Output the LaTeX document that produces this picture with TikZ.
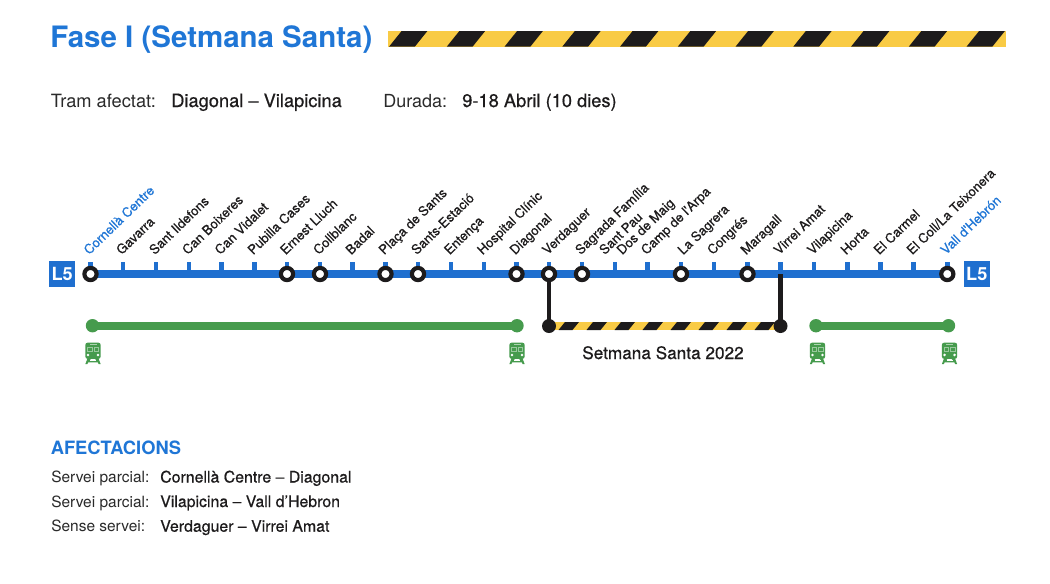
\documentclass[tikz,border=0pt]{standalone}
\usepackage{fontspec}
\setmainfont{TeX Gyre Heros}
\newfontfamily\medfont[FakeBold=0.6]{TeX Gyre Heros}
\usetikzlibrary{calc}
\definecolor{lineblue}{HTML}{1F6FCF}
\definecolor{textblue}{HTML}{1F76D6}
\definecolor{routegreen}{HTML}{469B4D}
\definecolor{hazardyellow}{HTML}{F9CB45}
\definecolor{inkblack}{HTML}{1D1B1C}
\definecolor{softblack}{HTML}{2A2A2A}
\tikzset{
  x=0.75pt,y=-0.75pt,
  stationlabel/.style={anchor=base west,rotate=44,inner sep=0pt,text=inkblack,font=\medfont\fontsize{9.85}{10}\selectfont},
  terminuslabel/.style={stationlabel,text=textblue},
  plain/.style={anchor=base west,inner sep=0pt,text=softblack},
  medtext/.style={anchor=base west,inner sep=0pt,text=inkblack,font=\medfont\fontsize{13.7}{15}\selectfont},
  smalltext/.style={anchor=base west,inner sep=0pt,text=softblack,font=\fontsize{11.6}{13}\selectfont},
  smallmed/.style={anchor=base west,inner sep=0pt,text=inkblack,font=\medfont\fontsize{11.9}{13}\selectfont},
  ring/.style={circle,draw=inkblack,fill=white,line width=3.1pt,minimum size=12.2*0.75pt,inner sep=0pt},
  greendot/.style={circle,fill=routegreen,minimum size=13.4*0.75pt,inner sep=0pt},
  blackdot/.style={circle,fill=inkblack,minimum size=14*0.75pt,inner sep=0pt},
  linebadge/.style={fill=lineblue,text=white,minimum width=25.5*0.75pt,minimum height=25.5*0.75pt,inner sep=0pt,font=\bfseries\fontsize{13.6}{15}\selectfont},
  trainicon/.pic={
    \fill[routegreen,rounded corners=1.6] (-7.6,-10.7) rectangle (7.6,5.4);
    \fill[routegreen] (-5.5,5) -- (-3.5,5) -- (-1.8,7) -- (1.8,7) -- (3.5,5) -- (5.5,5) -- (7.6,10.6) -- (5.6,10.6) -- (4.9,9) -- (-4.9,9) -- (-5.6,10.6) -- (-7.6,10.6) -- cycle;
    \fill[white!55!routegreen] (-3.5,-9.3) rectangle (3.5,-8.2);
    \fill[white!45!routegreen] (-6,-6.6) rectangle (-0.5,-1.4);
    \fill[white!45!routegreen] (0.5,-6.6) rectangle (6,-1.4);
    \fill[routegreen] (-5,-5.6) rectangle (-1.5,-2.4);
    \fill[routegreen] (1.5,-5.6) rectangle (5,-2.4);
    \fill[white] (-5,1.5) circle (1.4);
    \fill[white] (5,1.5) circle (1.4);
    \fill[white] (-3,6.6) rectangle (3,7.6);
  }
}
\begin{document}
\begin{tikzpicture}
\useasboundingbox (0,0) rectangle (1050,583);
\fill[white] (0,0) rectangle (1050,583);

% header
\node[plain,text=textblue,font=\bfseries\fontsize{22.1}{26}\selectfont] (title) at (50,47) {Fase I (Setmana Santa)};
\fill[hazardyellow] (387.7,31) rectangle (1006,46.7);
\foreach \k in {0,...,10}{
  \fill[inkblack] ({389+57.75*\k},46.7) -- ({401.6+57.75*\k},31) -- ({427.4+57.75*\k},31) -- ({414.8+57.75*\k},46.7) -- cycle;
}
\node[plain,font=\fontsize{13.7}{15}\selectfont] (tram) at (50.5,107) {Tram afectat:};
\node[medtext] (tramval) at (171,107) {Diagonal – Vilapicina};
\node[plain,font=\fontsize{13.5}{15}\selectfont] (durada) at (383,107) {Durada:};
\node[medtext] (duradaval) at (462,107) {9-18 Abril (10 dies)};

% station coordinates
\foreach \i/\xx in {0/90.5,1/123,2/156,3/189,4/221.5,5/254.5,6/287,7/320,8/352.5,9/385.5,10/418,11/451,12/484,13/516.5,14/549,15/582,16/615,17/647.7,18/681,19/714,20/747.5,21/780.5,22/814,23/847.5,24/880.5,25/913.5,26/947.3}{
  \coordinate (st\i) at (\xx,274);
  \fill[lineblue] (\xx-2.4,261.7) rectangle (\xx+2.4,274);
}
\draw[lineblue,line width=6.2pt] (st0) -- (st26);

% labels
\foreach \i/\t in {1/Gavarra,2/Sant Ildefons,3/Can Boixeres,4/Can Vidalet,5/Pubilla Cases,6/Ernest Lluch,7/Collblanc,8/Badal,9/Plaça de Sants,10/Sants-Estació,11/Entença,12/Hospital Clínic,13/Diagonal,14/Verdaguer,15/Sagrada Família,17/Camp de l'Arpa,19/Congrés,20/Maragall,21/Virrei Amat,22/Vilapicina,23/Horta,24/El Carmel}{
  \node[stationlabel] (lab\i) at ($(st\i)+(-1.5,-18.5)$) {\t};
}
\node[stationlabel] (lab18) at ($(st18)+(2,-18.5)$) {La Sagrera};
\node[stationlabel] (lab25) at ($(st25)+(-1.5,-18.5)$) {El Coll/La Teixonera};
\node[terminuslabel] (lab0) at ($(st0)+(-1.5,-18.5)$) {Cornellà Centre};
\node[terminuslabel] (lab26) at ($(st26)+(-1.5,-18.5)$) {Vall d'Hebrón};
\node[stationlabel] (lab16a) at ($(st16)+(-10.5,-18.5)$) {Sant Pau};
\node[stationlabel] (lab16b) at ($(st16)+(7,-18.5)$) {Dos de Maig};

% lower routes
\node[greendot] (g1) at (92.5,325.7) {};
\node[greendot] (g2) at (517,325.7) {};
\node[greendot] (g3) at (816,325.7) {};
\node[greendot] (g4) at (948.5,325.7) {};
\draw[routegreen,line width=5.8pt] (g1.center) -- (g2.center);
\draw[routegreen,line width=5.8pt] (g3.center) -- (g4.center);

\coordinate (hzA) at (549,326);
\coordinate (hzB) at (780.5,326);
\fill[hazardyellow] (549,322) rectangle (780.5,330);
\begin{scope}
\clip (549,322) rectangle (780.5,330);
\foreach \k in {0,...,8}{
  \fill[inkblack] ({558.5+28*\k},330) -- ({565+28*\k},322) -- ({579+28*\k},322) -- ({572.5+28*\k},330) -- cycle;
}
\end{scope}
\draw[inkblack,line width=3.7pt] (st14) -- (hzA);
\draw[inkblack,line width=3.7pt] (st21) -- (hzB);
\node[blackdot] (bk1) at (hzA) {};
\node[blackdot] (bk2) at (hzB) {};

% stations with interchange
\foreach \i in {0,6,7,9,10,13,14,15,18,20,26}{
  \node[ring] (ring\i) at (st\i) {};
}

% badges
\node[linebadge] (badgeL) at (62.2,274) {L5};
\node[linebadge] (badgeR) at (976.8,274) {L5};

% train icons
\pic at (93,353.4) {trainicon};
\pic at (517,353.4) {trainicon};
\pic at (817.5,353.4) {trainicon};
\pic at (949.5,353.4) {trainicon};

\node[medtext,font=\medfont\fontsize{12.9}{14}\selectfont] (ss) at (582,359) {Setmana Santa 2022};

% afectacions
\node[plain,text=textblue,font=\bfseries\fontsize{13.75}{15}\selectfont] (afe) at (50.5,454) {AFECTACIONS};
\node[smalltext] (a1) at (51,482.5) {Servei parcial:};
\node[smallmed] (b1) at (160,482.5) {Cornellà Centre – Diagonal};
\node[smalltext] (a2) at (51,507) {Servei parcial:};
\node[smallmed] (b2) at (160,507) {Vilapicina – Vall d’Hebron};
\node[smalltext] (a3) at (51,531.7) {Sense servei:};
\node[smallmed] (b3) at (160,531.7) {Verdaguer – Virrei Amat};
\end{tikzpicture}
\end{document}
